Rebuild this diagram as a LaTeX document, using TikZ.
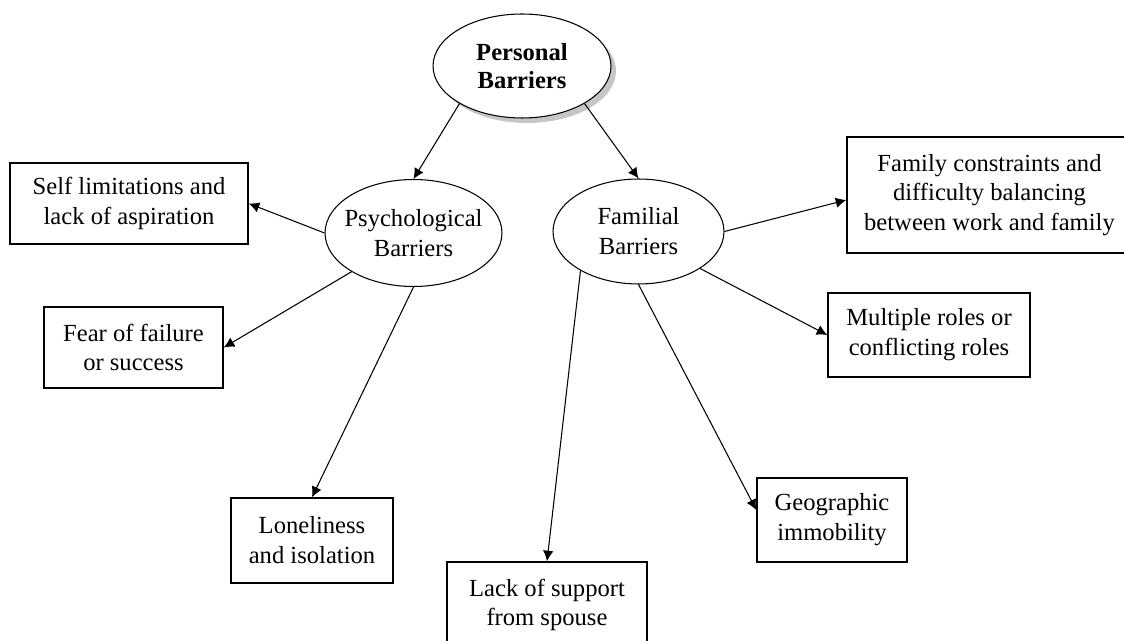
\documentclass[tikz,border=0pt]{standalone}
\usepackage{fontspec}
\setmainfont{Liberation Serif}
\usetikzlibrary{shapes.geometric,shadows,arrows.meta}

\tikzset{
  barrier/.style={ellipse, draw, line width=0.6pt, inner sep=0pt, fill=white},
  factor/.style={rectangle, draw, line width=0.85pt, inner sep=0pt, align=center},
  link/.style={-{Latex[length=6pt,width=6pt]}, line width=0.6pt}
}

\begin{document}
\begin{tikzpicture}[x=0.02cm, y=-0.02cm, font=\fontsize{14}{17}\selectfont]
\useasboundingbox (0,0) rectangle (1124,641);

% the three ellipses
\node[barrier, minimum width=3.56cm, minimum height=2.08cm,
  drop shadow={shadow xshift=0.1cm, shadow yshift=-0.1cm, opacity=0.45},
  label={[align=center, font=\fontsize{14}{16}\selectfont\bfseries]center:Personal\\Barriers}]
  (per) at (522,66) {};
\node[barrier, minimum width=3.54cm, minimum height=2.14cm,
  label={[align=center]center:Psychological\\Barriers}] (psy) at (413.5,233) {};
\node[barrier, minimum width=3.42cm, minimum height=2.1cm,
  label={[align=center]center:Familial\\Barriers}] (fam) at (638.5,231.5) {};

% the boxes
\node[factor, minimum width=4.76cm, minimum height=1.62cm] (self) at (129,203.5) {Self limitations and\\lack of aspiration};
\node[factor, minimum width=3.58cm, minimum height=1.62cm] (fear) at (133.5,347.5) {Fear of failure\\or success};
\node[factor, minimum width=3.24cm, minimum height=1.7cm] (lone) at (312,540.5) {Loneliness\\and isolation};
\node[factor, minimum width=4cm, minimum height=1.72cm] (lack) at (547,605) {Lack of support\\from spouse};
\node[factor, minimum width=3cm, minimum height=1.68cm] (geo) at (832,520) {Geographic\\immobility};
\node[factor, minimum width=4.04cm, minimum height=1.68cm] (multi) at (929,335) {Multiple roles or\\conflicting roles};
\node[factor, minimum width=5.7cm, minimum height=2.32cm] (family) at (989.5,195) {Family constraints and\\difficulty balancing\\between work and family};

\draw[link] (per.211) -- (psy.north);
\draw[link] (per.329) -- (fam.north);

\draw[link] (psy.west) -- (self.east);
\draw[link] (psy.212) -- (fear.east);
\draw[link] (psy.south) -- (lone.north);

\draw[link] (fam.east) -- ([yshift=-0.1cm]family.west);
\draw[link] (fam.329) -- (multi.west);
\draw[link] (fam.214) -- (lack.north);
\draw[link] (fam.south) -- ([yshift=0.2cm]geo.west);

\end{tikzpicture}
\end{document}
